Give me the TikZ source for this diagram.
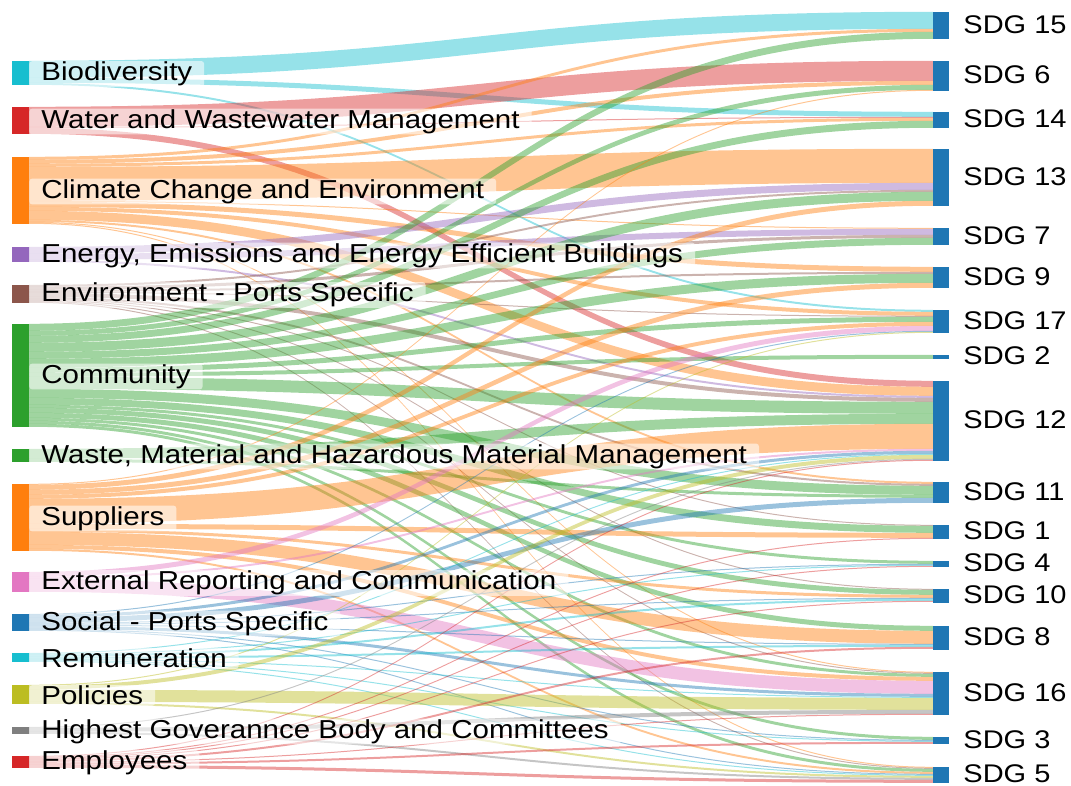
\documentclass[tikz,border=0pt]{standalone}
\usepackage{fontspec}
\setmainfont{Liberation Sans}
\usetikzlibrary{positioning,calc}
\definecolor{cbio}{HTML}{17BECF}
\definecolor{cwater}{HTML}{D62728}
\definecolor{corange}{HTML}{FF7F0E}
\definecolor{cpurple}{HTML}{9467BD}
\definecolor{cbrown}{HTML}{8C564B}
\definecolor{cgreen}{HTML}{2CA02C}
\definecolor{cpink}{HTML}{E377C2}
\definecolor{cblue}{HTML}{1F77B4}
\definecolor{colive}{HTML}{BCBD22}
\definecolor{cgray}{HTML}{7F7F7F}

% one band from a topic bar to an SDG bar, stacked under the earlier ones
\newcommand{\sdgflow}[4]{%
  \ifcsname out@#1\endcsname\else\expandafter\xdef\csname out@#1\endcsname{0}\fi
  \ifcsname in@#2\endcsname\else\expandafter\xdef\csname in@#2\endcsname{0}\fi
  \edef\flA{\csname out@#1\endcsname}%
  \edef\ftA{\csname in@#2\endcsname}%
  \pgfmathsetmacro\flB{\flA+#3}%
  \pgfmathsetmacro\ftB{\ftA+#3}%
  \fill[band=#4] ($(#1.north east)+(0,\flA)$)
    .. controls +(452,0) and +(-452,0) .. ($(#2.north west)+(0,\ftA)$)
    -- ($(#2.north west)+(0,\ftB)$)
    .. controls +(-452,0) and +(452,0) .. ($(#1.north east)+(0,\flB)$) -- cycle;
  \expandafter\xdef\csname out@#1\endcsname{\flB}%
  \expandafter\xdef\csname in@#2\endcsname{\ftB}%
}

\begin{document}
\begin{tikzpicture}[
    x=1pt, y=-1pt,
    bar/.style={rectangle, draw=none, inner sep=0, minimum width=17pt},
    sdgbar/.style={rectangle, draw=none, fill=cblue, inner sep=0, minimum width=16pt},
    band/.style={fill=#1, fill opacity=0.45},
    lab/.style={fill=white, fill opacity=0.55, text opacity=1, rounded corners=3pt,
      inner xsep=12pt, inner ysep=1pt, font=\fontsize{29.5}{31}\selectfont,
      yshift=-1pt, yscale=0.88, transform shape},
    sdglab/.style={inner sep=0, font=\fontsize{29}{31}\selectfont,
      yshift=1pt, yscale=0.88, transform shape}
    ]
    \useasboundingbox (0,0) rectangle (1071,785);
    % topics
    \node[bar, fill=cbio, minimum height=24pt] (bio) at (20.5,73) {};
    \node[bar, fill=cwater, minimum height=27pt] (water) at (20.5,120.5) {};
    \node[bar, fill=corange, minimum height=67pt] (climate) at (20.5,190.5) {};
    \node[bar, fill=cpurple, minimum height=15pt] (energy) at (20.5,254.5) {};
    \node[bar, fill=cbrown, minimum height=18pt] (envport) at (20.5,294) {};
    \node[bar, fill=cgreen, minimum height=103pt] (community) at (20.5,375.5) {};
    \node[bar, fill=cgreen, minimum height=13pt] (waste) at (20.5,455.5) {};
    \node[bar, fill=corange, minimum height=67pt] (suppliers) at (20.5,517.5) {};
    \node[bar, fill=cpink, minimum height=20pt] (external) at (20.5,582) {};
    \node[bar, fill=cblue, minimum height=17pt] (social) at (20.5,622.5) {};
    \node[bar, fill=cbio, minimum height=9pt] (remun) at (20.5,657.5) {};
    \node[bar, fill=colive, minimum height=19pt] (policies) at (20.5,694.5) {};
    \node[bar, fill=cgray, minimum height=7pt] (highest) at (20.5,730.5) {};
    \node[bar, fill=cwater, minimum height=12pt] (employees) at (20.5,762) {};
    % goals
    \foreach \n/\y/\h in {15/25.5/27, 6/76/30, 14/120/16, 13/177.5/57, 7/236.5/17,
        9/277.5/21, 17/321.5/23, 2/357/4, 12/421/80, 11/492.5/21, 1/532/14,
        4/564/6, 10/596/14, 8/638/24, 16/693.5/43, 3/740.5/7, 5/775/16} {
      \node[sdgbar, minimum height=\h pt] (sdg\n) at (941,\y) {};
      \node[sdglab, right=14pt of sdg\n] (sdg\n-l) {SDG \n};
    }
    % bands
    \foreach \t/\w in {sdg15/17, sdg14/5, sdg17/2} {\sdgflow{bio}{\t}{\w}{cbio}}
    \foreach \t/\w in {sdg6/20, sdg14/1, sdg12/6} {\sdgflow{water}{\t}{\w}{cwater}}
    \foreach \t/\w in {sdg15/3, sdg6/4, sdg14/3, sdg13/34, sdg7/1, sdg9/5, sdg17/4,
        sdg12/9, sdg11/2, sdg16/1, sdg5/1} {\sdgflow{climate}{\t}{\w}{corange}}
    \foreach \t/\w in {sdg13/7, sdg7/6, sdg12/2} {\sdgflow{energy}{\t}{\w}{cpurple}}
    \foreach \t/\w in {sdg13/2, sdg7/3, sdg9/2, sdg17/1, sdg12/4, sdg11/2, sdg1/1,
        sdg10/1, sdg16/1, sdg5/1} {\sdgflow{envport}{\t}{\w}{cbrown}}
    \foreach \t/\w in {sdg15/7, sdg6/5, sdg14/7, sdg13/9, sdg7/7, sdg9/9, sdg17/5,
        sdg2/4, sdg12/12, sdg11/9, sdg1/7, sdg4/3, sdg10/5, sdg8/5, sdg16/3, sdg3/3,
        sdg5/3} {\sdgflow{community}{\t}{\w}{cgreen}}
    \foreach \t/\w in {sdg12/10, sdg11/3} {\sdgflow{waste}{\t}{\w}{cgreen}}
    \foreach \t/\w in {sdg6/1, sdg13/5, sdg9/5, sdg17/4, sdg12/25, sdg1/5, sdg10/3,
        sdg8/13, sdg16/4, sdg5/2} {\sdgflow{suppliers}{\t}{\w}{corange}}
    \foreach \t/\w in {sdg17/5, sdg12/2, sdg16/13} {\sdgflow{external}{\t}{\w}{cpink}}
    \foreach \t/\w in {sdg17/1, sdg12/3, sdg11/5, sdg4/1, sdg10/1, sdg8/1, sdg16/3,
        sdg3/1, sdg5/1} {\sdgflow{social}{\t}{\w}{cblue}}
    \foreach \t/\w in {sdg12/1, sdg4/1, sdg10/2, sdg8/2, sdg16/1, sdg3/1, sdg5/1}
        {\sdgflow{remun}{\t}{\w}{cbio}}
    \foreach \t/\w in {sdg17/1, sdg12/4, sdg16/12, sdg5/2} {\sdgflow{policies}{\t}{\w}{colive}}
    \foreach \t/\w in {sdg12/1, sdg16/4, sdg5/2} {\sdgflow{highest}{\t}{\w}{cgray}}
    \foreach \t/\w in {sdg12/1, sdg1/1, sdg4/1, sdg10/1, sdg8/2, sdg16/1, sdg3/2,
        sdg5/3} {\sdgflow{employees}{\t}{\w}{cwater}}
    % topic names
    \node[lab, right=0pt of bio] (bio-l) {Biodiversity};
    \node[lab, right=0pt of water] (water-l) {Water and Wastewater Management};
    \node[lab, right=0pt of climate] (climate-l) {Climate Change and Environment};
    \node[lab, right=0pt of energy] (energy-l) {Energy, Emissions and Energy Efficient Buildings};
    \node[lab, right=0pt of envport] (envport-l) {Environment - Ports Specific};
    \node[lab, right=0pt of community] (community-l) {Community};
    \node[lab, right=0pt of waste] (waste-l) {Waste, Material and Hazardous Material Management};
    \node[lab, right=0pt of suppliers] (suppliers-l) {Suppliers};
    \node[lab, right=0pt of external] (external-l) {External Reporting and Communication};
    \node[lab, right=0pt of social] (social-l) {Social - Ports Specific};
    \node[lab, right=0pt of remun] (remun-l) {Remuneration};
    \node[lab, right=0pt of policies] (policies-l) {Policies};
    \node[lab, right=0pt of highest] (highest-l) {Highest Goverannce Body and Committees};
    \node[lab, right=0pt of employees] (employees-l) {Employees};
\end{tikzpicture}
\end{document}
